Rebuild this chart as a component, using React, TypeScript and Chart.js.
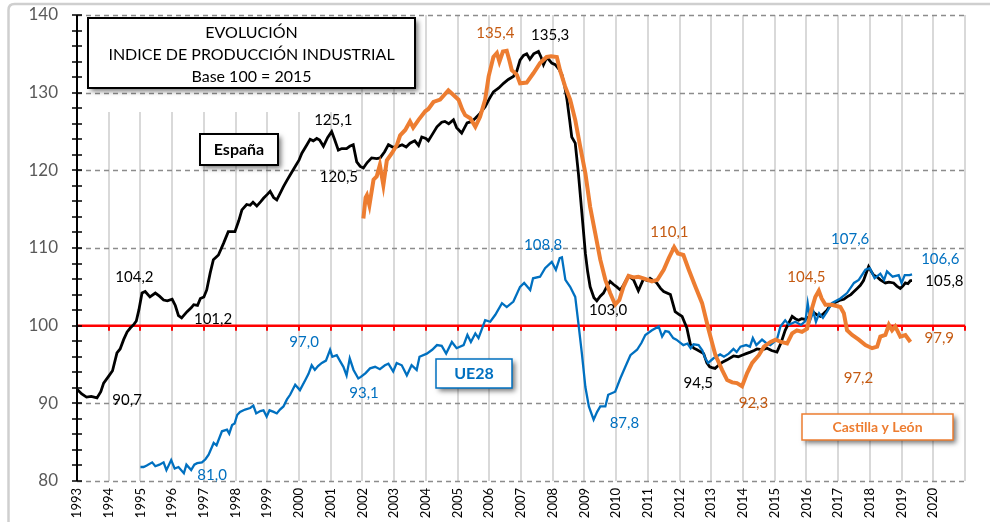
import React, { useEffect, useRef } from 'react';
import { Chart, registerables } from 'chart.js';
Chart.register(...registerables);

// ---- Data (decimal year, index value) ----
const espana: [number, number][] = [
  [1993.0, 91.8], [1993.15, 91.2], [1993.3, 90.8], [1993.45, 90.9], [1993.63, 90.7], [1993.75, 91.5], [1993.84, 92.6],
  [1994.0, 93.5], [1994.12, 94.2], [1994.26, 96.5], [1994.36, 97.0], [1994.47, 98.2], [1994.58, 99.2], [1994.68, 99.7],
  [1994.8, 100.2], [1994.87, 100.6], [1994.95, 102.0], [1995.05, 104.2], [1995.15, 104.4], [1995.3, 103.7], [1995.47, 104.2],
  [1995.6, 103.8], [1995.73, 103.3], [1995.85, 103.2], [1996.0, 103.4], [1996.1, 102.6], [1996.2, 101.3], [1996.3, 101.0],
  [1996.47, 101.8], [1996.6, 102.3], [1996.68, 102.7], [1996.8, 102.6], [1996.89, 103.5], [1997.0, 103.7], [1997.09, 104.6],
  [1997.2, 106.8], [1997.3, 108.5], [1997.46, 109.1], [1997.62, 110.6], [1997.7, 111.4], [1997.77, 112.1], [1997.98, 112.1],
  [1998.1, 113.5], [1998.2, 114.9], [1998.35, 115.6], [1998.46, 115.5], [1998.55, 115.9], [1998.67, 115.4], [1998.8, 116.0],
  [1998.88, 116.4], [1999.0, 116.9], [1999.09, 117.3], [1999.2, 116.5], [1999.3, 116.2], [1999.4, 117.0], [1999.51, 117.9],
  [1999.62, 118.7], [1999.72, 119.4], [1999.88, 120.5], [2000.0, 121.3], [2000.09, 122.2], [2000.25, 123.3], [2000.35, 124.0],
  [2000.45, 123.8], [2000.56, 124.1], [2000.65, 123.9], [2000.77, 123.1], [2000.9, 124.2], [2001.03, 125.0], [2001.12, 124.0],
  [2001.24, 122.6], [2001.35, 122.8], [2001.5, 122.8], [2001.6, 123.1], [2001.71, 123.3], [2001.82, 121.1], [2001.93, 120.5],
  [2002.03, 120.3], [2002.15, 121.0], [2002.29, 121.6], [2002.45, 121.5], [2002.56, 121.6], [2002.7, 122.4], [2002.82, 123.3],
  [2002.95, 123.0], [2003.08, 123.0], [2003.25, 123.3], [2003.38, 123.0], [2003.5, 123.5], [2003.65, 123.8], [2003.77, 123.2],
  [2003.87, 124.3], [2004.0, 124.1], [2004.08, 123.8], [2004.2, 124.6], [2004.35, 125.6], [2004.5, 126.2], [2004.6, 126.3],
  [2004.72, 126.0], [2004.87, 126.5], [2004.97, 125.5], [2005.13, 124.8], [2005.3, 126.1], [2005.45, 126.3], [2005.56, 126.7],
  [2005.7, 127.3], [2005.87, 128.2], [2006.0, 129.2], [2006.13, 130.1], [2006.3, 130.6], [2006.45, 131.2], [2006.6, 131.7],
  [2006.76, 132.1], [2006.87, 132.8], [2006.97, 134.2], [2007.08, 134.8], [2007.18, 135.0], [2007.28, 134.3], [2007.4, 135.0],
  [2007.55, 135.3], [2007.63, 134.6], [2007.71, 133.6], [2007.8, 134.4], [2007.87, 134.3], [2007.97, 133.8], [2008.08, 133.6],
  [2008.2, 133.0], [2008.29, 132.3], [2008.38, 130.8], [2008.45, 129.1], [2008.53, 126.6], [2008.6, 124.3], [2008.71, 123.5],
  [2008.81, 119.6], [2008.92, 114.5], [2009.03, 109.3], [2009.1, 107.0], [2009.18, 105.0], [2009.3, 103.6], [2009.39, 103.2],
  [2009.5, 103.8], [2009.6, 104.2], [2009.7, 105.0], [2009.81, 105.7], [2009.92, 105.3], [2010.02, 105.0], [2010.13, 104.6],
  [2010.23, 105.2], [2010.39, 106.4], [2010.55, 105.9], [2010.7, 104.5], [2010.86, 106.0], [2011.0, 105.8], [2011.07, 106.1],
  [2011.28, 105.5], [2011.4, 104.8], [2011.5, 104.4], [2011.71, 104.0], [2011.86, 101.8], [2012.0, 101.4], [2012.08, 101.2],
  [2012.23, 99.7], [2012.34, 97.6], [2012.45, 97.1], [2012.55, 96.9], [2012.76, 96.4], [2012.86, 95.2], [2012.95, 94.7],
  [2013.02, 94.6], [2013.12, 94.5], [2013.23, 94.9], [2013.35, 95.3], [2013.5, 95.6], [2013.7, 96.1], [2013.85, 96.0],
  [2013.97, 96.2], [2014.1, 96.4], [2014.23, 96.6], [2014.35, 96.8], [2014.44, 97.0], [2014.6, 96.9], [2014.76, 97.1],
  [2014.9, 96.8], [2015.07, 96.6], [2015.2, 97.8], [2015.33, 99.4], [2015.45, 100.4], [2015.55, 101.2], [2015.65, 100.9],
  [2015.75, 100.7], [2015.85, 100.9], [2015.96, 100.8], [2016.1, 101.2], [2016.2, 101.8], [2016.33, 101.4], [2016.44, 101.2],
  [2016.55, 101.6], [2016.65, 102.0], [2016.75, 102.6], [2016.86, 102.9], [2016.97, 103.1], [2017.07, 103.3], [2017.18, 103.4],
  [2017.28, 103.7], [2017.4, 104.0], [2017.5, 104.4], [2017.6, 104.8], [2017.7, 105.2], [2017.8, 105.8], [2017.86, 106.5],
  [2017.96, 107.6], [2018.04, 107.0], [2018.12, 106.5], [2018.22, 106.3], [2018.33, 105.9], [2018.49, 105.5], [2018.6, 105.6],
  [2018.75, 105.5], [2018.85, 105.1], [2018.96, 104.8], [2019.04, 105.1], [2019.12, 105.5], [2019.2, 105.4], [2019.28, 105.8],
  [2019.33, 105.8],
];

const ue28: [number, number][] = [
  [1995.0, 81.8], [1995.1, 81.8], [1995.2, 82.0], [1995.37, 82.4], [1995.47, 81.9], [1995.6, 82.1], [1995.73, 82.4],
  [1995.82, 81.4], [1995.97, 82.7], [1996.08, 81.6], [1996.2, 81.8], [1996.37, 81.0], [1996.45, 82.1], [1996.6, 81.4],
  [1996.7, 82.1], [1996.79, 82.3], [1996.94, 82.4], [1997.05, 82.8], [1997.15, 83.4], [1997.31, 84.9], [1997.4, 84.6],
  [1997.57, 86.4], [1997.73, 86.6], [1997.8, 86.1], [1997.89, 87.2], [1997.97, 87.4], [1998.05, 88.5], [1998.14, 88.9],
  [1998.3, 89.2], [1998.46, 89.4], [1998.56, 89.7], [1998.65, 88.7], [1998.78, 89.0], [1998.88, 89.1], [1998.98, 88.3],
  [1999.07, 89.1], [1999.2, 88.9], [1999.3, 88.7], [1999.4, 89.2], [1999.51, 89.6], [1999.62, 90.5], [1999.72, 91.1],
  [1999.88, 92.4], [2000.03, 91.7], [2000.2, 93.0], [2000.3, 93.8], [2000.4, 94.9], [2000.5, 94.3], [2000.6, 94.8],
  [2000.72, 95.2], [2000.85, 95.5], [2000.98, 96.9], [2001.05, 96.0], [2001.19, 96.2], [2001.3, 95.4], [2001.4, 94.7],
  [2001.5, 93.6], [2001.6, 95.8], [2001.72, 94.3], [2001.87, 93.2], [2001.95, 93.4], [2002.1, 93.9], [2002.24, 94.5],
  [2002.4, 94.7], [2002.55, 94.4], [2002.71, 94.9], [2002.82, 95.1], [2002.97, 94.1], [2003.08, 95.2], [2003.24, 94.9],
  [2003.4, 93.6], [2003.55, 94.9], [2003.71, 94.3], [2003.8, 96.0], [2004.03, 96.4], [2004.2, 96.9], [2004.35, 97.5],
  [2004.5, 97.4], [2004.64, 96.4], [2004.82, 97.9], [2004.97, 97.1], [2005.19, 97.5], [2005.31, 98.8], [2005.42, 97.9],
  [2005.56, 99.0], [2005.66, 98.4], [2005.87, 100.7], [2006.03, 100.5], [2006.19, 101.4], [2006.4, 102.9], [2006.55, 102.4],
  [2006.76, 103.1], [2006.97, 105.0], [2007.1, 105.5], [2007.29, 104.6], [2007.38, 106.1], [2007.6, 106.3], [2007.76, 107.4],
  [2007.97, 108.2], [2008.1, 107.2], [2008.22, 108.7], [2008.29, 108.8], [2008.4, 105.9], [2008.55, 105.0], [2008.71, 103.7],
  [2008.81, 100.3], [2008.92, 96.4], [2009.03, 92.1], [2009.14, 89.6], [2009.29, 87.9], [2009.4, 88.9], [2009.5, 89.6],
  [2009.66, 89.6], [2009.75, 91.1], [2009.97, 91.5], [2010.13, 93.2], [2010.29, 94.7], [2010.45, 96.2], [2010.66, 96.9],
  [2010.8, 97.8], [2010.92, 98.8], [2011.13, 99.4], [2011.34, 99.9], [2011.45, 98.6], [2011.55, 99.3], [2011.66, 99.2],
  [2011.8, 98.4], [2011.9, 98.2], [2012.12, 97.5], [2012.25, 97.7], [2012.35, 97.1], [2012.44, 97.6], [2012.6, 97.5],
  [2012.72, 96.8], [2012.81, 95.8], [2012.9, 95.2], [2013.07, 95.8], [2013.28, 96.3], [2013.4, 96.0], [2013.55, 96.4],
  [2013.7, 97.0], [2013.8, 96.6], [2013.92, 97.3], [2014.1, 97.5], [2014.22, 97.3], [2014.31, 98.4], [2014.42, 97.5],
  [2014.6, 98.2], [2014.72, 97.8], [2014.86, 97.5], [2015.07, 98.2], [2015.18, 99.9], [2015.33, 100.7], [2015.45, 100.1],
  [2015.65, 100.5], [2015.83, 100.1], [2015.97, 100.6], [2016.04, 102.9], [2016.12, 100.7], [2016.22, 101.8], [2016.3, 100.5],
  [2016.4, 101.6], [2016.52, 101.0], [2016.65, 101.8], [2016.8, 102.9], [2017.07, 103.5], [2017.28, 104.2], [2017.5, 105.5],
  [2017.65, 105.9], [2017.86, 107.2], [2018.0, 107.4], [2018.15, 106.1], [2018.33, 106.7], [2018.45, 105.9], [2018.54, 107.0],
  [2018.72, 106.3], [2018.91, 106.5], [2019.0, 105.5], [2019.1, 106.5], [2019.25, 106.5], [2019.33, 106.6],
];

const castillaLeon: [number, number][] = [
  [2002.03, 113.8], [2002.1, 116.5], [2002.14, 116.8], [2002.22, 115.5], [2002.35, 118.8], [2002.45, 119.2], [2002.55, 120.7],
  [2002.66, 118.1], [2002.77, 121.3], [2002.93, 122.2], [2003.09, 123.3], [2003.19, 124.5], [2003.35, 125.2], [2003.5, 126.3],
  [2003.6, 125.5], [2003.77, 126.5], [2003.98, 127.6], [2004.08, 127.9], [2004.24, 128.8], [2004.45, 129.1], [2004.6, 129.8],
  [2004.71, 130.3], [2004.87, 129.7], [2005.03, 129.1], [2005.15, 127.8], [2005.24, 127.1], [2005.4, 126.7], [2005.56, 125.6],
  [2005.71, 126.9], [2005.87, 129.1], [2005.98, 132.1], [2006.13, 134.6], [2006.24, 135.1], [2006.32, 134.0], [2006.43, 135.3],
  [2006.55, 135.4], [2006.63, 134.2], [2006.71, 132.9], [2006.87, 132.3], [2006.97, 131.2], [2007.18, 131.3], [2007.39, 132.5],
  [2007.6, 133.8], [2007.81, 134.6], [2007.95, 134.7], [2008.13, 134.6], [2008.23, 132.9], [2008.39, 130.8], [2008.55, 129.1],
  [2008.71, 126.5], [2008.87, 123.0], [2009.03, 119.6], [2009.18, 115.3], [2009.34, 111.9], [2009.5, 108.5], [2009.66, 105.9],
  [2009.81, 104.2], [2009.97, 102.7], [2010.1, 103.3], [2010.23, 105.0], [2010.39, 106.4], [2010.55, 106.2], [2010.7, 106.3],
  [2010.86, 106.1], [2011.0, 105.9], [2011.13, 105.7], [2011.3, 105.9], [2011.5, 107.2], [2011.66, 108.7], [2011.83, 110.1],
  [2011.95, 109.3], [2012.12, 109.1], [2012.29, 107.2], [2012.5, 105.0], [2012.71, 102.9], [2012.92, 99.4], [2013.13, 96.2],
  [2013.34, 94.3], [2013.5, 93.0], [2013.66, 92.7], [2013.81, 92.6], [2013.97, 92.2], [2014.13, 93.9], [2014.29, 95.2],
  [2014.5, 96.2], [2014.66, 97.3], [2014.87, 97.9], [2015.03, 98.2], [2015.2, 97.9], [2015.39, 97.7], [2015.55, 99.0],
  [2015.7, 99.4], [2015.86, 99.2], [2016.02, 99.6], [2016.13, 101.6], [2016.28, 103.7], [2016.39, 104.5], [2016.48, 103.5],
  [2016.6, 102.7], [2016.8, 102.7], [2017.07, 102.4], [2017.18, 101.6], [2017.28, 99.4], [2017.44, 98.8], [2017.65, 98.2],
  [2017.86, 97.5], [2018.07, 97.1], [2018.23, 97.3], [2018.33, 98.6], [2018.49, 98.8], [2018.6, 100.1], [2018.7, 99.4],
  [2018.8, 99.9], [2018.96, 98.6], [2019.12, 98.8], [2019.28, 97.9],
];

const yearTicks: number[] = [
  1993, 1994, 1995, 1996, 1997, 1998, 1999, 2000, 2001, 2002, 2003, 2004, 2005, 2006,
  2007, 2008, 2009, 2010, 2011, 2012, 2013, 2014, 2015, 2016, 2017, 2018, 2019, 2020, 2021,
];
const yTicks: number[] = [80, 90, 100, 110, 120, 130, 140];

// Value call-outs: [text, year, value, series]
const valueLabels: [string, number, number, string][] = [
  ['104,2', 1994.81, 106.27, 'es'], ['90,7', 1994.58, 90.43, 'es'], ['101,2', 1997.29, 100.86, 'es'],
  ['81,0', 1997.26, 80.78, 'ue'], ['97,0', 2000.16, 97.9, 'ue'], ['125,1', 2001.08, 126.48, 'es'],
  ['120,5', 2001.26, 119.14, 'es'], ['93,1', 2002.05, 91.33, 'ue'], ['135,4', 2006.19, 137.68, 'cl'],
  ['135,3', 2007.92, 137.42, 'es'], ['108,8', 2007.7, 110.39, 'ue'], ['103,0', 2009.75, 102.02, 'es'],
  ['87,8', 2010.26, 87.47, 'ue'], ['110,1', 2011.68, 112.06, 'cl'], ['94,5', 2012.59, 92.62, 'es'],
  ['92,3', 2014.33, 90.05, 'cl'], ['104,5', 2016.0, 106.27, 'cl'], ['97,2', 2017.64, 93.26, 'cl'],
  ['107,6', 2017.38, 111.16, 'ue'], ['106,6', 2020.22, 108.58, 'ue'], ['105,8', 2020.35, 105.75, 'es'],
  ['97,9', 2020.19, 98.41, 'cl'],
];

const titleLines = ['EVOLUCIÓN', 'INDICE DE PRODUCCIÓN INDUSTRIAL', 'Base 100 = 2015'];

const FONT = 'Lato, "Open Sans", "Liberation Sans", sans-serif';
const LABEL_COLORS: Record<string, string> = { es: '#000000', ue: '#0070C0', cl: '#C55A11' };

function shadowBox(ctx: CanvasRenderingContext2D, x: number, y: number, w: number, h: number, stroke: string, lw: number) {
  ctx.save();
  ctx.shadowColor = 'rgba(0,0,0,0.55)';
  ctx.shadowBlur = 5;
  ctx.shadowOffsetX = 3;
  ctx.shadowOffsetY = 3;
  ctx.fillStyle = '#ffffff';
  ctx.fillRect(x, y, w, h);
  ctx.restore();
  ctx.save();
  ctx.strokeStyle = stroke;
  ctx.lineWidth = lw;
  ctx.strokeRect(x, y, w, h);
  ctx.restore();
}

const decorPlugin = {
  id: 'decor',
  beforeDraw(chart: any) {
    const ctx: CanvasRenderingContext2D = chart.ctx;
    ctx.save();
    ctx.fillStyle = '#ffffff';
    ctx.fillRect(0, 0, chart.width, chart.height);
    ctx.strokeStyle = '#cfcfcf';
    ctx.lineWidth = 2.5;
    ctx.beginPath();
    const r = 6;
    const x0 = 8.5, y0 = 4, x1 = chart.width + 20, y1 = chart.height + 20;
    ctx.moveTo(x0 + r, y0);
    ctx.lineTo(x1, y0);
    ctx.moveTo(x0, y1);
    ctx.lineTo(x0, y0 + r);
    ctx.quadraticCurveTo(x0, y0, x0 + r, y0);
    ctx.stroke();
    ctx.restore();
  },
  beforeDatasetsDraw(chart: any) {
    const ctx: CanvasRenderingContext2D = chart.ctx;
    const { left, right, top, bottom } = chart.chartArea;
    const xs = chart.scales.x;
    const ys = chart.scales.y;
    ctx.save();
    // vertical grid
    ctx.strokeStyle = '#d9d9d9';
    ctx.lineWidth = 2;
    for (const yr of yearTicks) {
      if (yr === yearTicks[0]) continue;
      const px = Math.round(xs.getPixelForValue(yr));
      const t = yr <= 2001 ? 112 : top;
      ctx.beginPath();
      ctx.moveTo(px, t);
      ctx.lineTo(px, bottom);
      ctx.stroke();
    }
    // horizontal dashed grid
    ctx.setLineDash([5, 4]);
    ctx.strokeStyle = '#8c8c8c';
    ctx.lineWidth = 1.3;
    for (const v of yTicks) {
      if (v === 100) continue;
      const py = Math.round(ys.getPixelForValue(v)) + 0.5;
      ctx.beginPath();
      ctx.moveTo(left, py);
      ctx.lineTo(right, py);
      ctx.stroke();
    }
    ctx.setLineDash([]);
    // red axis at 100
    const p100 = ys.getPixelForValue(100);
    ctx.strokeStyle = '#ff0000';
    ctx.lineWidth = 2.5;
    ctx.beginPath();
    ctx.moveTo(left, p100);
    ctx.lineTo(right, p100);
    ctx.stroke();
    ctx.lineWidth = 2;
    for (const yr of yearTicks) {
      const px = Math.round(xs.getPixelForValue(yr));
      ctx.beginPath();
      ctx.moveTo(px, p100);
      ctx.lineTo(px, p100 + 5);
      ctx.stroke();
    }
    // y axis line & ticks
    ctx.strokeStyle = '#000000';
    ctx.lineWidth = 2;
    ctx.beginPath();
    ctx.moveTo(left, top);
    ctx.lineTo(left, bottom);
    ctx.stroke();
    ctx.lineWidth = 1.5;
    for (let v = 80; v <= 140; v += 2) {
      const py = Math.round(ys.getPixelForValue(v));
      ctx.beginPath();
      ctx.moveTo(left - 5, py);
      ctx.lineTo(left + 5, py);
      ctx.stroke();
    }
    ctx.restore();
  },
  afterDatasetsDraw(chart: any) {
    const ctx: CanvasRenderingContext2D = chart.ctx;
    const xs = chart.scales.x;
    const ys = chart.scales.y;
    ctx.save();
    // value labels
    ctx.textAlign = 'center';
    ctx.textBaseline = 'middle';
    ctx.font = `15px ${FONT}`;
    for (const [txt, yr, v, s] of valueLabels) {
      ctx.fillStyle = LABEL_COLORS[s];
      ctx.fillText(txt, xs.getPixelForValue(yr), ys.getPixelForValue(v));
    }
    // title box
    shadowBox(ctx, 88, 18, 327, 70, '#000000', 2);
    ctx.fillStyle = '#000000';
    ctx.font = `16px ${FONT}`;
    titleLines.forEach((t, i) => ctx.fillText(t, 251.5, 33 + i * 22));
    // España
    shadowBox(ctx, 200, 134, 78, 31, '#000000', 2);
    ctx.font = `bold 16px ${FONT}`;
    ctx.fillStyle = '#000000';
    ctx.fillText('España', 239, 150);
    // UE28
    shadowBox(ctx, 436, 359, 76, 29, '#0070C0', 1.5);
    ctx.font = `bold 16px ${FONT}`;
    ctx.fillStyle = '#0070C0';
    ctx.fillText('UE28', 474, 374);
    // Castilla y León
    shadowBox(ctx, 802, 414, 151, 26, '#ED7D31', 1.5);
    ctx.font = `bold 14px ${FONT}`;
    ctx.fillStyle = '#ED7D31';
    ctx.fillText('Castilla y León', 877.5, 427.5);
    ctx.restore();
  },
};

const toPts = (arr: [number, number][]) => arr.map(([x, y]) => ({ x, y }));

export default function App() {
  const ref = useRef<HTMLCanvasElement | null>(null);
  useEffect(() => {
    if (!ref.current) return;
    const chart = new Chart(ref.current, {
      type: 'line',
      data: {
        datasets: [
          { label: 'Castilla y León', data: toPts(castillaLeon), borderColor: '#ED7D31', borderWidth: 4, pointRadius: 0, tension: 0 },
          { label: 'UE28', data: toPts(ue28), borderColor: '#0070C0', borderWidth: 2.3, pointRadius: 0, tension: 0 },
          { label: 'España', data: toPts(espana), borderColor: '#000000', borderWidth: 2.8, pointRadius: 0, tension: 0 },
        ],
      },
      options: {
        responsive: false,
        animation: false,
        devicePixelRatio: 1,
        layout: { padding: { left: 0, top: 15, right: 25, bottom: 0 } },
        plugins: { legend: { display: false }, tooltip: { enabled: false } },
        scales: {
          x: {
            type: 'linear',
            min: 1993,
            max: 2021,
            afterBuildTicks: (scale: any) => {
              scale.ticks = yearTicks.map((v) => ({ value: v }));
            },
            afterFit: (scale: any) => {
              scale.height = 41;
              scale.paddingLeft = 0;
              scale.paddingRight = 0;
              scale.paddingTop = 0;
              scale.paddingBottom = 0;
            },
            ticks: {
              autoSkip: false,
              minRotation: 90,
              maxRotation: 90,
              padding: 7,
              color: '#000000',
              font: { family: FONT, size: 13 },
              callback: (v: any) => (v <= 2020 ? String(v) : ''),
            },
            grid: { display: false, drawTicks: false },
            border: { display: false },
          },
          y: {
            min: 80,
            max: 140,
            afterBuildTicks: (scale: any) => {
              scale.ticks = yTicks.map((v) => ({ value: v }));
            },
            afterFit: (scale: any) => {
              scale.width = 77;
              scale.paddingTop = 0;
              scale.paddingBottom = 0;
              scale.paddingLeft = 0;
              scale.paddingRight = 0;
            },
            ticks: {
              padding: 19,
              color: '#595959',
              font: { family: FONT, size: 17 },
            },
            grid: { display: false, drawTicks: false },
            border: { display: false },
          },
        },
      },
      plugins: [decorPlugin],
    });
    return () => chart.destroy();
  }, []);
  return (
    <div style={{ position: 'fixed', left: 0, top: 0, width: 990, height: 522, background: '#fff' }}>
      <canvas ref={ref} width={990} height={522} style={{ display: 'block' }} />
    </div>
  );
}
